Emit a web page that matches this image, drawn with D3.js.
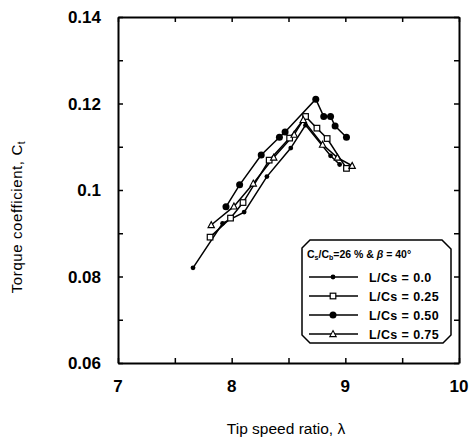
<!DOCTYPE html>
<html>
<head>
<meta charset="utf-8">
<script src="https://cdn.jsdelivr.net/npm/d3@7"></script>
<style>
  body { margin: 0; background: #fff; }
  svg { font-family: "Liberation Sans", Arial, sans-serif; }
</style>
</head>
<body>
<svg id="chart" width="470" height="446"></svg>
<script>
// data
let seriesNames = ['L/Cs = 0.0', 'L/Cs = 0.25', 'L/Cs = 0.50', 'L/Cs = 0.75'];
let lambda00 = [7.66, 7.92, 8.11, 8.31, 8.52, 8.65, 8.87, 8.95];
let ct00 = [0.082, 0.0923, 0.0949, 0.1031, 0.1097, 0.1150, 0.1079, 0.1059];
let lambda25 = [7.81, 7.99, 8.10, 8.33, 8.51, 8.65, 8.75, 8.84, 9.01];
let ct25 = [0.0891, 0.0935, 0.0971, 0.1069, 0.1120, 0.1170, 0.1143, 0.1119, 0.1050];
let lambda50 = [7.95, 8.07, 8.26, 8.42, 8.47, 8.74, 8.81, 8.87, 8.91, 9.01];
let ct50 = [0.0961, 0.1012, 0.1081, 0.1122, 0.1134, 0.1210, 0.1170, 0.1170, 0.1148, 0.1122];
let lambda75 = [7.82, 8.02, 8.19, 8.37, 8.55, 8.63, 8.80, 8.93, 9.06];
let ct75 = [0.0919, 0.0962, 0.1015, 0.1075, 0.1128, 0.1162, 0.1105, 0.1075, 0.1056];
let xTicks = [7, 8, 9, 10];
let yTicks = [0.06, 0.08, 0.1, 0.12, 0.14];

let svg = d3.select('#chart');
let plotL = 118, plotR = 459, plotT = 17, plotB = 363;
let x = d3.scaleLinear().domain([7, 10]).range([plotL, plotR]);
let y = d3.scaleLinear().domain([0.06, 0.14]).range([plotB, plotT]);

// frame with inward ticks on every side
svg.append('g').attr('transform', `translate(0,${plotB})`)
    .call(d3.axisBottom(x).tickValues(d3.range(7, 10.01, 0.5)).tickSizeInner(-5).tickSizeOuter(0).tickFormat(''));
svg.append('g').attr('transform', `translate(0,${plotT})`)
    .call(d3.axisTop(x).tickValues(d3.range(7, 10.01, 0.5)).tickSizeInner(-5).tickSizeOuter(0).tickFormat(''));
svg.append('g').attr('transform', `translate(${plotL},0)`)
    .call(d3.axisLeft(y).tickValues(d3.range(0.06, 0.1401, 0.01)).tickSizeInner(-5).tickSizeOuter(0).tickFormat(''));
svg.append('g').attr('transform', `translate(${plotR},0)`)
    .call(d3.axisRight(y).tickValues(d3.range(0.06, 0.1401, 0.01)).tickSizeInner(-5).tickSizeOuter(0).tickFormat(''));
svg.selectAll('.domain').attr('stroke', '#000').attr('stroke-width', 2);
svg.selectAll('.tick line').attr('stroke', '#000').attr('stroke-width', 1.5);

// tick labels
svg.append('g').selectAll('text').data(xTicks).join('text')
    .attr('x', d => x(d))
    .attr('y', 392)
    .attr('text-anchor', 'middle')
    .style('font-size', '17px')
    .style('font-weight', 'bold')
    .text(d => d);
svg.append('g').selectAll('text').data(yTicks).join('text')
    .attr('x', 101)
    .attr('y', d => y(d) + 6)
    .attr('text-anchor', 'end')
    .style('font-size', '17px')
    .style('font-weight', 'bold')
    .text(d => d3.format('~g')(d));

// axis titles
svg.append('text')
    .attr('x', 286)
    .attr('y', 434)
    .attr('text-anchor', 'middle')
    .style('font-size', '15.5px')
    .text('Tip speed ratio, λ');
let yt = svg.append('text')
    .attr('transform', 'translate(22,217) rotate(-90)')
    .attr('text-anchor', 'middle')
    .style('font-size', '15px')
    .style('letter-spacing', '0.6px');
yt.append('tspan').text('Torque coefficient, C');
yt.append('tspan').attr('dy', 3).style('font-size', '10px').text('t');

// markers
function drawMarker(g, kind) {
    if (kind === 0) {
        g.append('circle').attr('r', 2.4).attr('fill', '#000');
    } else if (kind === 1) {
        g.append('rect').attr('x', -2.8).attr('y', -2.8).attr('width', 5.6).attr('height', 5.6)
            .attr('fill', '#fff').attr('stroke', '#000').attr('stroke-width', 1.2);
    } else if (kind === 2) {
        g.append('circle').attr('r', 3.5).attr('fill', '#000');
    } else {
        g.append('path').attr('d', 'M0,-3.4L3.2,2.6L-3.2,2.6Z')
            .attr('fill', '#fff').attr('stroke', '#000').attr('stroke-width', 1.1);
    }
}

let series = [
    d3.zip(lambda00, ct00),
    d3.zip(lambda25, ct25),
    d3.zip(lambda50, ct50),
    d3.zip(lambda75, ct75)
];
let line = d3.line().x(d => x(d[0])).y(d => y(d[1]));
series.forEach((pts, i) => {
    svg.append('path')
        .attr('d', line(pts))
        .attr('fill', 'none')
        .attr('stroke', '#000')
        .attr('stroke-width', 1.5);
});
series.forEach((pts, i) => {
    svg.append('g').selectAll('g').data(pts).join('g')
        .attr('transform', d => `translate(${x(d[0])},${y(d[1])})`)
        .each(function () { drawMarker(d3.select(this), i); });
});

// legend
let lg = svg.append('g');
lg.append('path')
    .attr('d', 'M310,240H442L451,249V335L443,343H310L302,335V248Z')
    .attr('fill', '#fff').attr('stroke', '#000').attr('stroke-width', 1.5);
let lt = lg.append('text').attr('x', 307).attr('y', 258)
    .style('font-size', '10.5px').style('font-weight', 'bold');
lt.append('tspan').text('C');
lt.append('tspan').attr('dy', 2).style('font-size', '7px').text('s');
lt.append('tspan').attr('dy', -2).text('/C');
lt.append('tspan').attr('dy', 2).style('font-size', '7px').text('b');
lt.append('tspan').attr('dy', -2).text('=26 %  &  ');
lt.append('tspan').style('font-style', 'italic').text('β');
lt.append('tspan').text(' = 40°');
let rows = lg.selectAll('g.row').data(seriesNames).join('g')
    .attr('class', 'row')
    .attr('transform', (d, i) => `translate(0,${277 + i * 19})`);
rows.append('line').attr('x1', 309).attr('x2', 358)
    .attr('stroke', '#000').attr('stroke-width', 1.3);
rows.each(function (d, i) {
    drawMarker(d3.select(this).append('g').attr('transform', 'translate(333,0)'), i);
});
rows.append('text').attr('x', 369).attr('y', 4.5)
    .style('font-size', '12.5px').style('font-weight', 'bold')
    .style('letter-spacing', '0.4px')
    .text(d => d);
</script>
</body>
</html>
